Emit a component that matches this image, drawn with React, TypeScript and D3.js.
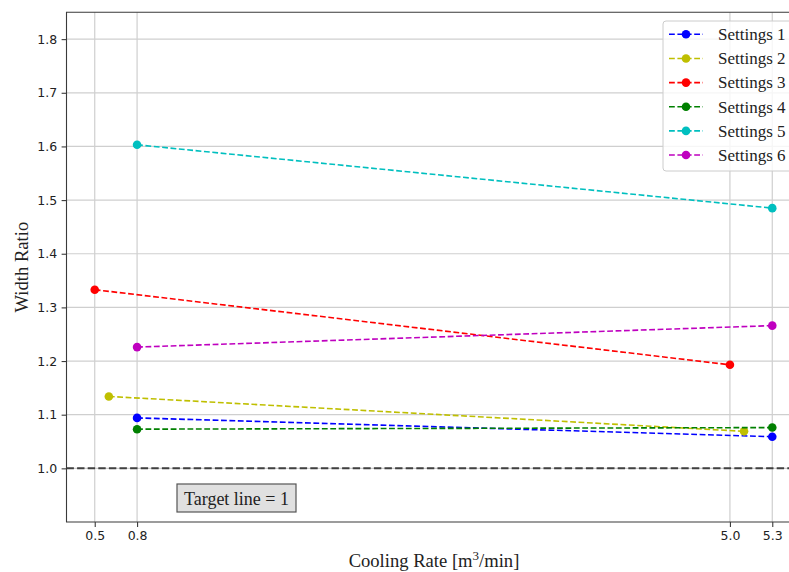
import React, { useEffect, useRef } from "react";
import * as d3 from "d3";

// values
const seriesNames = ["Settings 1", "Settings 2", "Settings 3", "Settings 4", "Settings 5", "Settings 6"];
const seriesColors = ["#0000ff", "#bfbf00", "#ff0000", "#008000", "#00bfbf", "#bf00bf"];
const s1 = [[0.8, 1.094], [5.3, 1.059]];
const s2 = [[0.6, 1.134], [5.1, 1.069]];
const s3 = [[0.5, 1.333], [5.0, 1.193]];
const s4 = [[0.8, 1.073], [5.3, 1.076]];
const s5 = [[0.8, 1.603], [5.3, 1.485]];
const s6 = [[0.8, 1.226], [5.3, 1.266]];
const xTicks = [0.5, 0.8, 5.0, 5.3];
const yTicks = [1.0, 1.1, 1.2, 1.3, 1.4, 1.5, 1.6, 1.7, 1.8];
const targetValue = 1.0;

const W = 789;
const H = 572;
const serif = "'Liberation Serif', 'DejaVu Serif', serif";
const sans = "'DejaVu Sans', sans-serif";

export default function App() {
  const ref = useRef<SVGSVGElement>(null);

  useEffect(() => {
    const root = d3.select(ref.current);
    root.selectAll("*").remove();

    root.append("defs").append("clipPath").attr("id", "page")
      .append("rect").attr("x", 0).attr("y", 0).attr("width", W).attr("height", H);
    const svg = root.append("g").attr("clip-path", "url(#page)");

    const left = 66.5, top = 12.3, right = 800.5, bottom = 522;
    const x = d3.scaleLinear().domain([0.3, 5.5]).range([left, right]);
    const y = d3.scaleLinear().domain([0.9, 1.85]).range([bottom, top]);

    const allSeries = [s1, s2, s3, s4, s5, s6];

    // grid
    const grid = svg.append("g");
    grid.selectAll("line.gx").data(xTicks).enter().append("line")
      .attr("x1", (d) => x(d)).attr("x2", (d) => x(d))
      .attr("y1", top).attr("y2", bottom)
      .attr("stroke", "#cfcfcf").attr("stroke-width", 1.2);
    grid.selectAll("line.gy").data(yTicks).enter().append("line")
      .attr("x1", left).attr("x2", right)
      .attr("y1", (d) => y(d)).attr("y2", (d) => y(d))
      .attr("stroke", "#cfcfcf").attr("stroke-width", 1.2);

    // target line
    svg.append("line")
      .attr("x1", left).attr("x2", right)
      .attr("y1", y(targetValue)).attr("y2", y(targetValue))
      .attr("stroke", "#404040").attr("stroke-width", 2)
      .attr("stroke-dasharray", "7.4,3.2");

    // series
    const line = d3.line<number[]>().x((d) => x(d[0])).y((d) => y(d[1]));
    allSeries.forEach((s, i) => {
      svg.append("path")
        .attr("d", line(s))
        .attr("fill", "none")
        .attr("stroke", seriesColors[i])
        .attr("stroke-width", 1.6)
        .attr("stroke-dasharray", "5.8,2.6");
      svg.selectAll(null).data(s).enter().append("circle")
        .attr("cx", (d) => x(d[0])).attr("cy", (d) => y(d[1]))
        .attr("r", 4.3).attr("fill", seriesColors[i]);
    });

    // spines (left, top, bottom only; right one falls outside the picture)
    svg.append("path")
      .attr("d", `M${right},${top}H${left}V${bottom}H${right}`)
      .attr("fill", "none").attr("stroke", "#3a3a3a").attr("stroke-width", 1.1);

    // axes
    const xAxis = svg.append("g").attr("transform", `translate(0,${bottom})`)
      .call(d3.axisBottom(x).tickValues(xTicks).tickFormat(d3.format(".1f")).tickSize(4.9).tickPadding(4.5));
    const yAxis = svg.append("g").attr("transform", `translate(${left},0)`)
      .call(d3.axisLeft(y).tickValues(yTicks).tickFormat(d3.format(".1f")).tickSize(4.9).tickPadding(4.5));
    [xAxis, yAxis].forEach((a) => {
      a.select(".domain").remove();
      a.selectAll("line").attr("stroke", "#3a3a3a").attr("stroke-width", 1.1);
      a.selectAll("text").attr("font-family", sans).attr("font-size", 12.5).attr("fill", "#222");
    });

    // axis labels
    const xl = svg.append("text")
      .attr("x", 434).attr("y", 567)
      .attr("text-anchor", "middle")
      .attr("font-family", serif).attr("font-size", 18.6).attr("fill", "#222");
    xl.append("tspan").text("Cooling Rate [m");
    xl.append("tspan").attr("font-size", 13).attr("dy", -7).text("3");
    xl.append("tspan").attr("dy", 7).text("/min]");

    svg.append("text")
      .attr("transform", `translate(28,${(top + bottom) / 2}) rotate(-90)`)
      .attr("text-anchor", "middle")
      .attr("font-family", serif).attr("font-size", 18.6).attr("fill", "#222")
      .text("Width Ratio");

    // target annotation box
    svg.append("rect")
      .attr("x", 177).attr("y", 484).attr("width", 119).attr("height", 28)
      .attr("fill", "#e0e0e0").attr("stroke", "#555").attr("stroke-width", 1.2);
    svg.append("text")
      .attr("x", 236.5).attr("y", 504.5).attr("text-anchor", "middle")
      .attr("font-family", serif).attr("font-size", 18).attr("fill", "#222")
      .text("Target line = " + targetValue);

    // legend (right edge runs past the picture)
    const lg = svg.append("g");
    const lx = 663, ly = 21, lw = 150, lh = 150;
    lg.append("rect")
      .attr("x", lx).attr("y", ly).attr("width", lw).attr("height", lh)
      .attr("fill", "#fff").attr("fill-opacity", 0.8);
    lg.append("path")
      .attr("d", `M${lx + lw},${ly}H${lx + 3}Q${lx},${ly} ${lx},${ly + 3}V${ly + lh - 3}Q${lx},${ly + lh} ${lx + 3},${ly + lh}H${lx + lw}`)
      .attr("fill", "none").attr("stroke", "#cccccc").attr("stroke-width", 1);
    seriesNames.forEach((name, i) => {
      const cy = 34.3 + i * 24.15;
      lg.append("line")
        .attr("x1", 669).attr("x2", 703).attr("y1", cy).attr("y2", cy)
        .attr("stroke", seriesColors[i]).attr("stroke-width", 1.6)
        .attr("stroke-dasharray", "5.8,2.6");
      lg.append("circle").attr("cx", 686).attr("cy", cy).attr("r", 4.3).attr("fill", seriesColors[i]);
      lg.append("text")
        .attr("x", 718).attr("y", cy + 5.8)
        .attr("font-family", serif).attr("font-size", 17).attr("fill", "#222")
        .text(name);
    });
  }, []);

  return (
    <svg ref={ref} width={W} height={H} style={{ position: "absolute", left: 0, top: 0, background: "#fff", overflow: "hidden" }} />
  );
}
